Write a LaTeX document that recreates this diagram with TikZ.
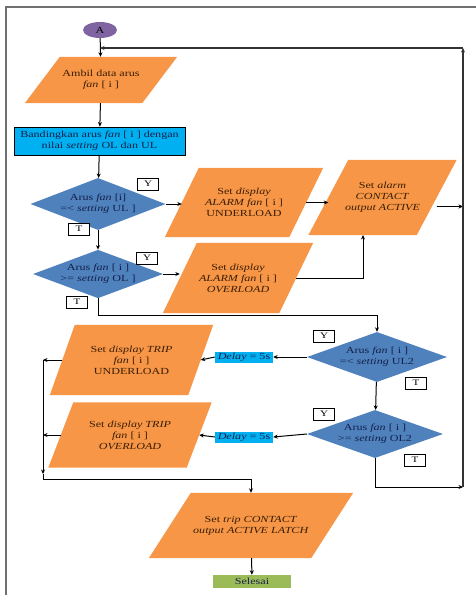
\documentclass[tikz,border=0pt]{standalone}
\usepackage{fontspec}
\setmainfont{Liberation Serif}[FakeStretch=1.3]
\usetikzlibrary{shapes.geometric,calc,backgrounds,arrows.meta}
\definecolor{orng}{HTML}{F79646}
\definecolor{dblue}{HTML}{4F81BD}
\definecolor{cyanb}{HTML}{00B0F0}
\definecolor{grn}{HTML}{9BBB59}
\definecolor{purp}{HTML}{8064A2}
\definecolor{txtbrown}{HTML}{3A1E05}
\definecolor{txtnavy}{HTML}{14204A}
\definecolor{framegray}{HTML}{707070}
\newcommand\pgram[7]{%
  \node[paratext, minimum width=#4pt, minimum height=#5pt] (#1) at (#2,#3) {#7};
  \begin{scope}[on background layer]
    \fill[orng] ($(#1.north west)+(#6/2,0)$) -- ($(#1.north east)+(#6/2,0)$)
      -- ($(#1.south east)+(-#6/2,0)$) -- ($(#1.south west)+(-#6/2,0)$) -- cycle;
  \end{scope}}
\tikzset{
  basefont/.style={font=\fontsize{9.3}{11}\selectfont},
  paratext/.style={basefont, rectangle, inner sep=0pt, align=center, text=txtbrown},
  decision/.style={basefont, diamond, aspect=2.6, inner sep=0pt, fill=dblue, align=center, text=txtnavy},
  procbox/.style={basefont, rectangle, fill=cyanb, draw=black, line width=0.8pt, align=center, text=txtnavy, inner sep=1pt},
  delaybox/.style={basefont, rectangle, fill=cyanb, align=center, text=txtnavy, inner sep=0pt, minimum width=58pt, minimum height=11pt},
  endbox/.style={basefont, rectangle, fill=grn, text=txtnavy, inner sep=0pt, minimum width=78pt, minimum height=13pt},
  startnode/.style={basefont, ellipse, fill=purp, inner sep=0pt, minimum width=34pt, minimum height=16pt},
  yt/.style={font=\fontsize{8.5}{9}\selectfont, rectangle, draw=black, line width=0.6pt, fill=white, inner sep=0pt, minimum width=21pt, minimum height=12pt},
  arr/.style={-{Stealth[length=4.5pt,width=4pt]}, line width=1pt, black},
  ln/.style={line width=1pt, black},
  loopln/.style={line width=1.3pt, black!80},
}
\begin{document}
\begin{tikzpicture}[x=1pt,y=-1pt]
\useasboundingbox (0,0) rectangle (476,595);
% partial frame
\draw[framegray, line width=1.3pt] (476,7) -- (6,7) -- (6,595);

% nodes
\node[startnode] (A) at (100,30) {A};
\pgram{pA}{101}{80}{117}{46}{35}{Ambil data arus\\\textit{fan} [ i ]}
\node[procbox, minimum width=171pt, minimum height=28pt] (B) at (99.5,141) {Bandingkan arus \textit{fan} [ i ] dengan\\nilai \textit{setting} OL dan UL};
\node[decision, minimum width=135pt, minimum height=52pt] (d1) at (98,204) {Arus \textit{fan} [i]\\=< \textit{setting} UL ]};
\node[decision, minimum width=130pt, minimum height=48pt] (d2) at (98,274) {Arus \textit{fan} [ i ]\\>= \textit{setting} OL ]};
\pgram{pU}{244}{202.5}{124}{69}{34}{Set \textit{display}\\\textit{ALARM fan} [ i ]\\UNDERLOAD}
\pgram{pC}{382.5}{197.5}{108}{75}{40}{Set \textit{alarm}\\\textit{CONTACT}\\\textit{output ACTIVE}}
\pgram{pO}{238}{278}{116}{70}{34}{Set \textit{display}\\\textit{ALARM fan} [ i ]\\\textit{OVERLOAD}}
\node[decision, minimum width=140pt, minimum height=50pt] (d3) at (377,357) {Arus \textit{fan} [ i ]\\=< \textit{setting} UL2};
\node[decision, minimum width=136pt, minimum height=48pt] (d4) at (375,434) {Arus \textit{fan} [ i ]\\>= \textit{setting} OL2};
\node[delaybox] (del1) at (244,357) {\textit{Delay} = 5s};
\node[delaybox] (del2) at (244,437) {\textit{Delay} = 5s};
\pgram{pTU}{131.5}{360}{138}{70}{25}{Set \textit{display TRIP}\\\textit{fan} [ i ]\\UNDERLOAD}
\pgram{pTO}{130}{435}{138}{65}{25}{Set \textit{display TRIP}\\\textit{fan} [ i ]\\\textit{OVERLOAD}}
\pgram{pT}{251}{525.5}{162}{65}{42}{Set \textit{trip CONTACT}\\\textit{output ACTIVE LATCH}}
\node[endbox] (sel) at (252,581.5) {Selesai};

% Y / T labels
\node[yt] (y1) at (148,184) {Y};
\node[yt] (t1) at (79,229) {T};
\node[yt] (y2) at (147,258) {Y};
\node[yt] (t2) at (77,302) {T};
\node[yt] (y3) at (324,336) {Y};
\node[yt] (t3) at (416,383) {T};
\node[yt] (y4) at (324,414) {Y};
\node[yt] (t4) at (415,460) {T};

% helper coordinates
\coordinate (cTop) at (100,48);
\coordinate (cR2) at (463,48);
\coordinate (cR1) at (463,487);
\coordinate (cUp) at (363,235);
\coordinate (cL1) at (43,360);
\coordinate (cL2) at (43,479);

% connectors
\draw[arr] (A) -- (pA);
\draw[arr] (pA) -- (B);
\draw[arr] (B) -- (d1);
\draw[arr] (d1.east) -- (d1.east -| pU.west);
\draw[arr] (pU.east) -- (pU.east -| pC.west);
\draw[arr] ($(pC.east)+(0,9)$) -- ($(pC.east -| cR1)+(0,9)$);
\draw[arr] (d1) -- (d2);
\draw[arr] (d2.east) -- (d2.east -| pO.west);
\draw[arr] (pO.east) -| (cUp);
\draw[arr] (d2.south) |- ($(d3.north)+(0,-16)$) -- (d3.north);
\draw[arr] (d3.west) -- (del1.east);
\draw[arr] (del1.west) -- (pTU.east);
\draw[arr] (pTU.west) -- (pTU.west -| cL1);
\draw[arr] (d3) -- (d4);
\draw[arr] (d4.west) -- (del2.east);
\draw[arr] (del2.west) -- (pTO.east);
\draw[arr] (pTO.west) -- (pTO.west -| cL1);
\draw[arr] (cL1) -- ($(cL2)+(0,-5)$);
\draw[ln] ($(cL2)+(0,-5)$) -- (cL2);
\draw[arr] (cL2) -| (pT.north);
\draw[arr] (pT) -- (sel);
\draw[arr] (d4.south) |- (cR1);
\draw[arr, loopln] (cR1) -- (cR2);
\draw[arr, loopln] (cR2) -- (cTop);
\end{tikzpicture}
\end{document}
